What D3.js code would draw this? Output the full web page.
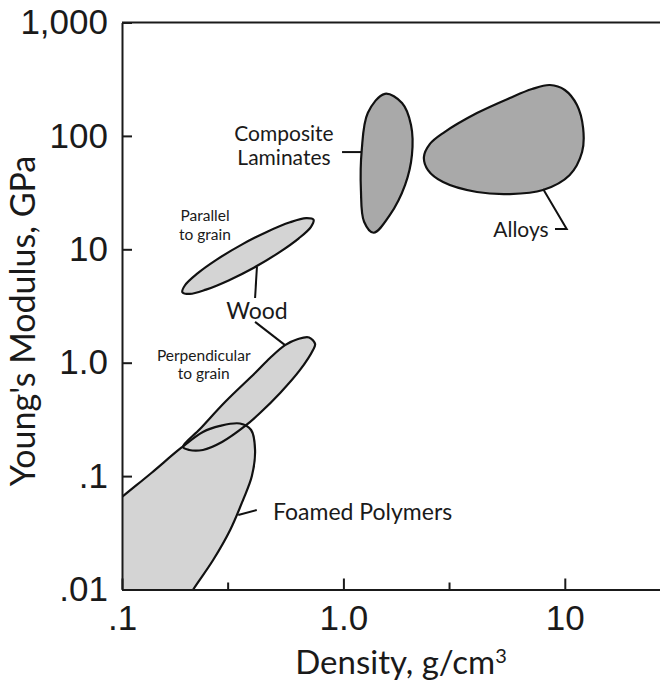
<!DOCTYPE html>
<html lang="en">
<head>
  <title>Modulus vs density</title>
  <meta http-equiv="content-type" content="text/html; charset=utf-8" />
<style>

body {
	margin:0px;
	background:#fff;
}

svg {
	font-family: Lato, 'Open Sans', sans-serif;
	fill: #1a1a1a;
}

.axis path,
.axis line {
  fill: none;
  stroke: #1a1a1a;
  stroke-width: 2px;
}

.axis text {
  font-size: 35px;
  fill: #1a1a1a;
}

.outline {
  fill: none;
  stroke: #111;
  stroke-width: 2.2px;
  stroke-linejoin: round;
}

.leader {
  fill: none;
  stroke: #111;
  stroke-width: 2px;
}

</style>
</head>

<body>
	<svg width="660" height="690"></svg>

	<script src="https://cdn.jsdelivr.net/npm/d3@7"></script>

	<script>

	// axis ticks
	var xTicks = [0.1, 1, 10],
		xTickLabels = [".1", "1.0", "10"],
		xMinorTicks = [0.3, 3];

	var yTicks = [0.01, 0.1, 1, 10, 100, 1000],
		yTickLabels = [".01", ".1", "1.0", "10", "100", "1,000"];

	// material envelopes: [density g/cm3, modulus GPa]
	var woodParallel = [[0.733,18.2],[0.714,15.8],[0.629,12.5],[0.511,9.35],[0.396,6.92],[0.303,5.32],
		[0.2395,4.41],[0.2024,4.04],[0.1874,4.19],[0.1926,4.82],[0.2186,6.10],[0.2688,8.15],
		[0.3473,11.0],[0.453,14.3],[0.574,17.3],[0.679,18.8]];

	var woodPerpendicular = [[0.1886,0.181],[0.225,0.26],[0.292,0.45],[0.399,0.811],[0.466,1.10],
		[0.545,1.43],[0.624,1.62],[0.70,1.67],[0.745,1.46],[0.729,1.294],[0.637,0.863],[0.518,0.541],
		[0.42,0.36],[0.36,0.277],[0.283,0.20],[0.232,0.17],[0.201,0.17]];

	var foamedPolymers = [[0.0646,0.0321],[0.1,0.0654],[0.1366,0.1076],[0.1847,0.177],[0.232,0.245],
		[0.277,0.277],[0.341,0.291],[0.383,0.255],[0.399,0.17],[0.386,0.10],[0.352,0.0615],
		[0.308,0.0335],[0.258,0.0182],[0.209,0.0099],[0.1867,0.00687],[0.0646,0.00687]];

	var compositeLaminates = [[1.54,235],[1.84,195],[2.02,125],[2.04,68],[1.9,37],[1.62,20],[1.37,14],
		[1.24,17.5],[1.2,33],[1.21,75],[1.29,160]];

	var alloys = [[8.57,281],[10.0,254],[11.35,187],[12.1,117],[11.97,72],[10.5,45],[7.97,33.3],
		[5.65,30.7],[4.01,32],[2.82,39.2],[2.41,50],[2.31,65],[2.46,85],[2.82,106],[4.01,159],
		[5.65,216],[7.11,259]];

	// leader lines
	var leaders = [
		[[0.407,7.0],[0.399,3.72]],
		[[0.399,2.29],[0.545,1.43]],
		[[0.986,72],[1.21,72]],
		[[7.98,34],[10.2,15.1],[9.03,15.1]],
		[[0.335,0.0454],[0.406,0.0502]]
	];

	// labels: text, density, modulus, anchor, size
	var labels = [
		["Composite", 0.539, 106, "middle", 21],
		["Laminates", 0.539, 65.2, "middle", 21],
		["Alloys", 6.34, 15.1, "middle", 21],
		["Wood", 0.407, 2.86, "middle", 23],
		["Parallel", 0.237, 19.7, "middle", 15.5],
		["to grain", 0.237, 13.6, "middle", 15.5],
		["Perpendicular", 0.234, 1.17, "middle", 15.5],
		["to grain", 0.234, 0.811, "middle", 15.5],
		["Foamed Polymers", 0.481, 0.0482, "start", 23]
	];

	function drawGraphic() {

		var svg = d3.select("svg"),
			margin = {top: 22.5, left: 122},
			decade = {x: 221.4, y: 113.4};

		var x = d3.scaleLog()
			.domain([0.1, 30])
			.range([margin.left, margin.left + decade.x * Math.log10(300)]);

		var y = d3.scaleLog()
			.domain([0.01, 1000])
			.range([margin.top + decade.y * 5, margin.top]);

		svg.append("clipPath")
			.attr("id", "plotclip")
			.append("rect")
			.attr("x", x(0.1))
			.attr("y", y(1000))
			.attr("width", x(30) - x(0.1))
			.attr("height", y(0.01) - y(1000));

		var line = d3.line()
			.x(function(d) { return x(d[0]); })
			.y(function(d) { return y(d[1]); })
			.curve(d3.curveCatmullRomClosed.alpha(0.5));

		var shapes = [
			{pts: woodParallel, fill: "#d4d4d4"},
			{pts: woodPerpendicular, fill: "#d4d4d4"},
			{pts: foamedPolymers, fill: "#d4d4d4"},
			{pts: compositeLaminates, fill: "#a9a9a9"},
			{pts: alloys, fill: "#a9a9a9"}
		];

		var plot = svg.append("g").attr("clip-path", "url(#plotclip)");

		// fills first so every outline stays visible where envelopes overlap
		plot.selectAll(".area")
			.data(shapes)
			.enter().append("path")
			.attr("class", "area")
			.attr("d", function(d) { return line(d.pts); })
			.style("fill", function(d) { return d.fill; });

		plot.selectAll(".outline")
			.data(shapes)
			.enter().append("path")
			.attr("class", "outline")
			.attr("d", function(d) { return line(d.pts); });

		svg.selectAll(".leader")
			.data(leaders)
			.enter().append("path")
			.attr("class", "leader")
			.attr("d", d3.line()
				.x(function(d) { return x(d[0]); })
				.y(function(d) { return y(d[1]); }));

		svg.selectAll(".label")
			.data(labels)
			.enter().append("text")
			.attr("class", "label")
			.attr("x", function(d) { return x(d[1]); })
			.attr("y", function(d) { return y(d[2]); })
			.attr("dy", "0.36em")
			.attr("text-anchor", function(d) { return d[3]; })
			.style("font-size", function(d) { return d[4] + "px"; })
			.text(function(d) { return d[0]; });

		// axes
		svg.append("g")
			.attr("class", "axis axis--y")
			.attr("transform", "translate(" + margin.left + ",0)")
			.call(d3.axisLeft(y)
				.tickValues(yTicks)
				.tickSize(-10)
				.tickSizeOuter(0)
				.tickPadding(14)
				.tickFormat(function(d, i) { return yTickLabels[i]; }));

		svg.append("g")
			.attr("class", "axis axis--x")
			.attr("transform", "translate(0," + y(0.01) + ")")
			.call(d3.axisBottom(x)
				.tickValues(xTicks)
				.tickSize(-11)
				.tickSizeOuter(0)
				.tickPadding(16)
				.tickFormat(function(d, i) { return xTickLabels[i]; }));

		svg.append("g")
			.attr("class", "axis axis--xminor")
			.attr("transform", "translate(0," + y(0.01) + ")")
			.call(d3.axisBottom(x)
				.tickValues(xMinorTicks)
				.tickSize(-7)
				.tickSizeOuter(0)
				.tickFormat(""))
			.select(".domain").remove();

		// top frame
		svg.append("line")
			.attr("x1", x(0.1))
			.attr("x2", x(30))
			.attr("y1", y(1000))
			.attr("y2", y(1000))
			.style("stroke", "#1a1a1a")
			.style("stroke-width", "2px");

		// axis titles
		svg.append("text")
			.attr("transform", "translate(35," + 321 + ") rotate(-90)")
			.attr("text-anchor", "middle")
			.style("font-size", "34px")
			.text("Young's Modulus, GPa");

		var xt = svg.append("text")
			.attr("x", 401)
			.attr("y", 674)
			.attr("text-anchor", "middle")
			.style("font-size", "33px")
			.text("Density, g/cm");
		xt.append("tspan")
			.attr("dy", "-0.55em")
			.style("font-size", "20px")
			.text("3");
	}

	drawGraphic();

	</script>
</body>
</html>
